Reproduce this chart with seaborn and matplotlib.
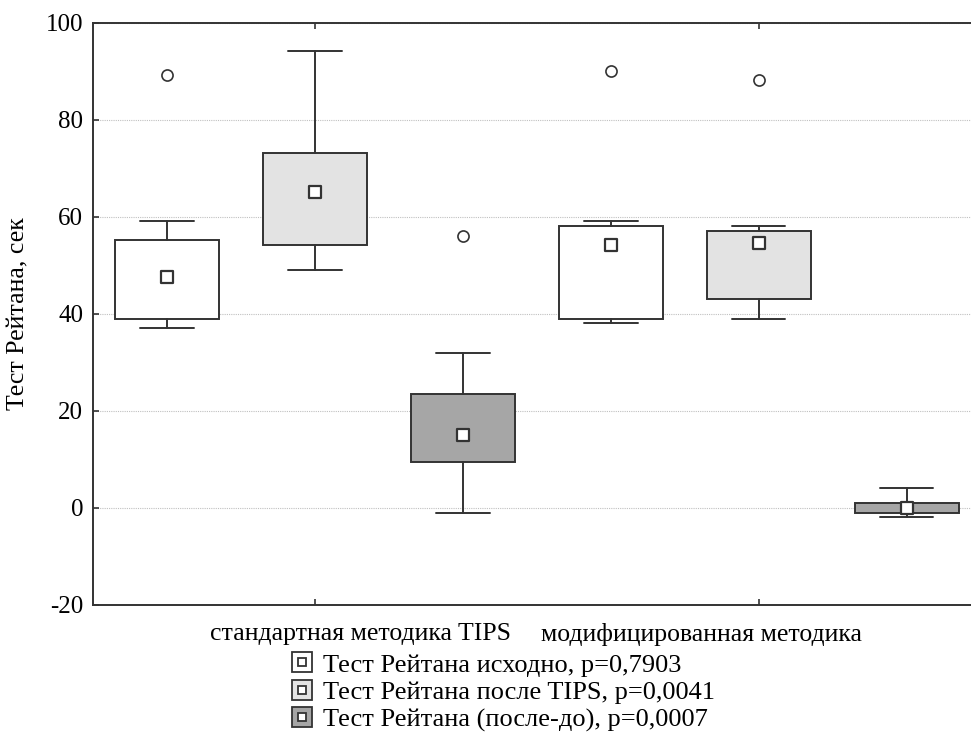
import matplotlib

matplotlib.use("Agg")
import matplotlib.pyplot as plt
import matplotlib.transforms as mtransforms
import pandas as pd
import seaborn as sns
from matplotlib.legend_handler import HandlerTuple
from matplotlib.lines import Line2D

# ---- values ----
groups = ["стандартная методика TIPS", "модифицированная методика"]
series = [
    "Тест Рейтана исходно, p=0,7903",
    "Тест Рейтана после TIPS, p=0,0041",
    "Тест Рейтана (после-до), p=0,0007",
]
# per series: [standard, modified]
medians = [[47.6, 54.1], [65.1, 54.6], [15.0, 0.0]]
q1 = [[39.0, 39.0], [54.1, 43.1], [9.5, -1.1]]
q3 = [[55.1, 58.1], [73.1, 57.1], [23.5, 1.0]]
whisker_lo = [[37.1, 38.0], [49.1, 39.0], [-1.0, -2.0]]
whisker_hi = [[59.2, 59.1], [94.1, 58.1], [32.0, 4.0]]
outliers = [[[89.2], [90.1]], [[], [88.1]], [[56.0], []]]

colors = ["#ffffff", "#e3e3e3", "#a6a6a6"]
edge = "#333333"
offsets = [-1 / 3, 0, 1 / 3]

sns.set_style("ticks")
plt.rcParams["font.family"] = ["Liberation Serif", "DejaVu Serif"]
plt.rcParams["axes.unicode_minus"] = False
plt.rcParams["text.color"] = "black"
plt.rcParams["axes.labelcolor"] = "black"
plt.rcParams["xtick.labelcolor"] = "black"
plt.rcParams["ytick.labelcolor"] = "black"

fig = plt.figure(figsize=(9.71, 7.33), dpi=100)
ax = fig.add_axes([0.0958, 0.175, 0.904, 0.794])

rows = []
for si in range(len(series)):
    stats = []
    pos = []
    for gi in range(len(groups)):
        stats.append({
            "med": medians[si][gi], "q1": q1[si][gi], "q3": q3[si][gi],
            "whislo": whisker_lo[si][gi], "whishi": whisker_hi[si][gi],
            "fliers": outliers[si][gi],
        })
        pos.append(gi + offsets[si])
        rows.append({"x": gi + offsets[si], "median": medians[si][gi], "series": series[si]})
    ax.bxp(
        stats, positions=pos, widths=0.233, capwidths=0.12, patch_artist=True,
        boxprops=dict(facecolor=colors[si], edgecolor=edge, linewidth=1.4),
        whiskerprops=dict(color=edge, linewidth=1.4),
        capprops=dict(color=edge, linewidth=1.4),
        medianprops=dict(linewidth=0),
        flierprops=dict(marker="o", markerfacecolor="white", markeredgecolor=edge,
                        markersize=8, markeredgewidth=1.2),
        manage_ticks=False, zorder=3,
    )

# median markers (squares)
med_df = pd.DataFrame(rows)
sns.scatterplot(data=med_df, x="x", y="median", ax=ax, marker="s", s=64,
                color="white", edgecolor=edge, linewidth=1.6, legend=False, zorder=4)

ax.set_xlim(-0.5, 1.4775)
ax.set_ylim(-20, 100)
ax.set_yticks([-20, 0, 20, 40, 60, 80, 100])
ax.set_xticks([0, 1])
ax.set_xticklabels(groups)
ax.grid(axis="y", linestyle=(0, (1, 1)), color="#c0c0c0", linewidth=0.8)
ax.set_axisbelow(True)
ax.tick_params(axis="both", direction="in", length=4, width=1.2, color=edge, labelsize=18)
ax.tick_params(axis="y", pad=7)
ax.tick_params(axis="x", top=True, pad=13, labelsize=18.5)
ax.set_xlabel("")
ax.set_ylabel("Тест Рейтана, сек", fontsize=18.5, labelpad=12)
for s in ["left", "top", "bottom"]:
    ax.spines[s].set_color(edge)
    ax.spines[s].set_linewidth(1.4)
ax.spines["right"].set_visible(False)

# STATISTICA-style shift of the category labels
for lab, dx in zip(ax.get_xticklabels(), [46, -57]):
    lab.set_transform(lab.get_transform() + mtransforms.ScaledTranslation(dx / 100, 0, fig.dpi_scale_trans))

handles = []
for c in colors:
    big = Line2D([], [], linestyle="none", marker="s", markersize=14.4,
                 markerfacecolor=c, markeredgecolor=edge, markeredgewidth=1.3)
    small = Line2D([], [], linestyle="none", marker="s", markersize=6.3,
                   markerfacecolor="white", markeredgecolor=edge, markeredgewidth=1.3)
    handles.append((big, small))
fig.legend(handles, series, handler_map={tuple: HandlerTuple(ndivide=1)},
           loc="upper left", bbox_to_anchor=(0.297, 0.109), frameon=False,
           fontsize=19, handlelength=1.05, handletextpad=0.27, labelspacing=0.15,
           borderaxespad=0, borderpad=0)

fig.savefig("out.png", dpi=100)
